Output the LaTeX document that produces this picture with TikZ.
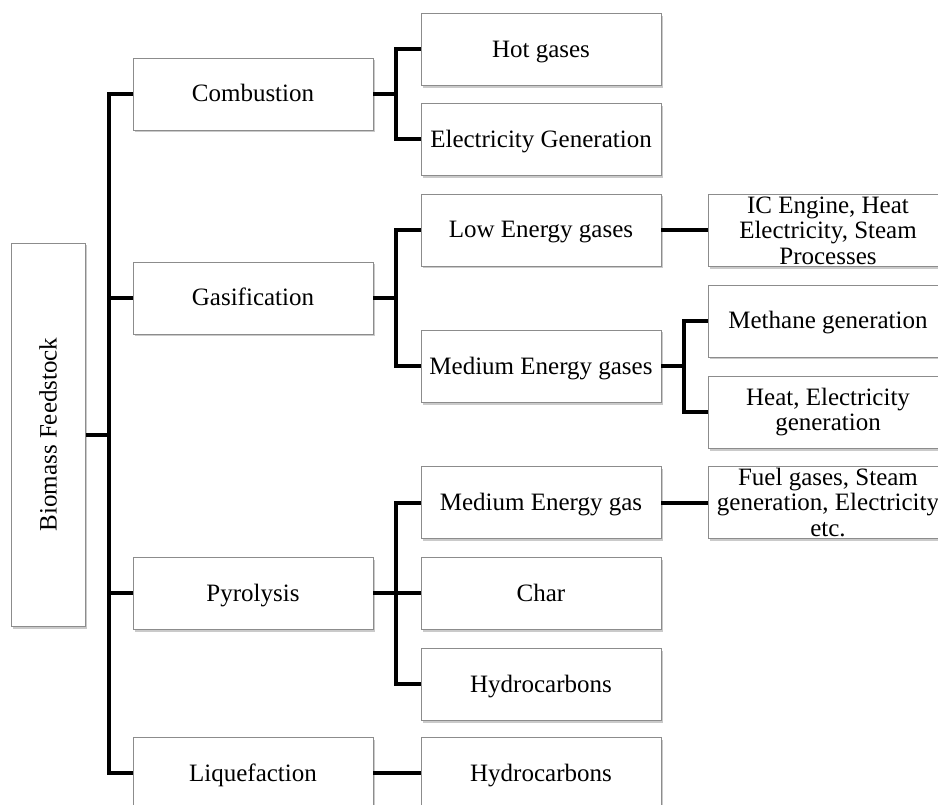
\documentclass[tikz,border=0pt]{standalone}
\usepackage{fontspec}
\setmainfont{Liberation Serif}
\usepackage{tikz}
\usetikzlibrary{shadows}

\tikzset{
  procbox/.style={draw=black!45, line width=0.8pt, fill=white, minimum width=240pt, minimum height=72pt,
    inner sep=0pt, align=center, font=\fontsize{25}{25.5}\selectfont, text height=16pt, text depth=0pt,
    drop shadow={shadow xshift=1.5pt, shadow yshift=-2.5pt, opacity=0.35, fill=black!60}},
  multiline/.style={text height={}, text depth={}},
  link/.style={line width=4pt, black}
}

\begin{document}
\begin{tikzpicture}[x=1pt, y=-1pt]
\useasboundingbox (0,0) rectangle (938,805);
% feedstock
\node[procbox, rotate=90, minimum width=383pt, minimum height=74pt] (feed) at (48.5,434.5) {Biomass Feedstock};
% conversion routes
\node[procbox] (comb) at (253,94) {Combustion};
\node[procbox] (gas) at (253,298) {Gasification};
\node[procbox] (pyr) at (253,593) {Pyrolysis};
\node[procbox] (liq) at (253,773) {Liquefaction};
% products
\node[procbox] (hot) at (541,49.5) {Hot gases};
\node[procbox] (elec) at (541,139.5) {Electricity Generation};
\node[procbox] (low) at (541,230) {Low Energy gases};
\node[procbox] (medgs) at (541,366) {Medium Energy gases};
\node[procbox] (medg) at (541,502.5) {Medium Energy gas};
\node[procbox] (char) at (541,593) {Char};
\node[procbox] (hyd) at (541,684) {Hydrocarbons};
\node[procbox] (hydl) at (541,773) {Hydrocarbons};
% end uses
\node[procbox, multiline] (ic) at (828,230.5) {IC Engine, Heat\\Electricity, Steam\\Processes};
\node[procbox] (meth) at (828,321) {Methane generation};
\node[procbox, multiline] (heat) at (828,412) {Heat, Electricity\\generation};
\node[procbox, multiline] (fuel) at (828,502.5) {Fuel gases, Steam\\generation, Electricity\\etc.};

% main spine
\draw[link] (feed.south) -- ++(24,0);
\draw[link] (comb.west) -- ++(-24,0) |- (liq.west);
\draw[link] (gas.west) -- ++(-24,0);
\draw[link] (pyr.west) -- ++(-24,0);
% second level
\draw[link] (comb.east) -- ++(23,0);
\draw[link] (hot.west) -- ++(-25,0) |- (elec.west);
\draw[link] (gas.east) -- ++(23,0);
\draw[link] (low.west) -- ++(-25,0) |- (medgs.west);
\draw[link] (pyr.east) -- (char.west);
\draw[link] (medg.west) -- ++(-25,0) |- (hyd.west);
\draw[link] (liq.east) -- (hydl.west);
% third level
\draw[link] (low.east) -- (low.east -| ic.west);
\draw[link] (medgs.east) -- ++(23,0);
\draw[link] (meth.west) -- ++(-24,0) |- (heat.west);
\draw[link] (medg.east) -- (medg.east -| fuel.west);
\end{tikzpicture}
\end{document}
